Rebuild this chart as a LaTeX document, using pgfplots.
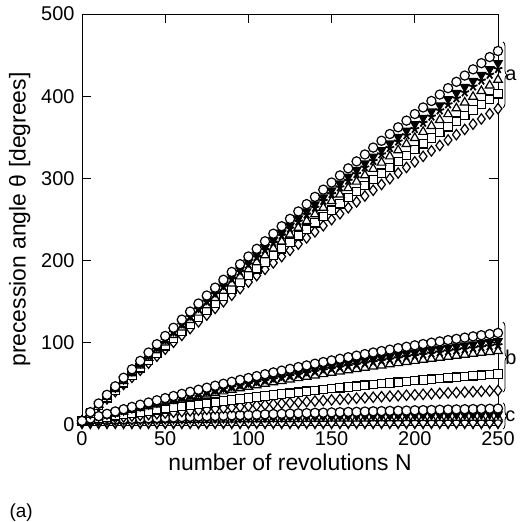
\documentclass[border=0pt]{standalone}
\usepackage{fontspec}
\setmainfont{Liberation Sans}
\usepackage{pgfplots}
\usepackage{pgfplotstable}
\pgfplotsset{compat=1.18}
\usetikzlibrary{decorations.pathreplacing}
\pgfplotstableread{
N ac ad as at aq ar
0 5 5 5 5 5 5
5 15.6 15.3 15.1 14.8 14.4 14.0
10 26.2 25.5 25.2 24.5 23.7 22.9
15 36.7 35.7 35.1 34.2 33.0 31.8
20 47.1 45.7 45.1 43.8 42.2 40.6
25 57.5 55.8 54.9 53.4 51.4 49.3
30 67.8 65.7 64.7 62.9 60.5 58.0
35 78.0 75.6 74.5 72.3 69.6 66.6
40 88.2 85.5 84.1 81.7 78.5 75.2
45 98.3 95.2 93.7 91.0 87.5 83.7
50 108.3 104.9 103.3 100.3 96.3 92.2
55 118.3 114.6 112.7 109.5 105.2 100.6
60 128.2 124.1 122.2 118.6 113.9 109.0
65 138.0 133.6 131.5 127.7 122.6 117.3
70 147.8 143.1 140.8 136.7 131.2 125.5
75 157.5 152.5 150.0 145.6 139.8 133.7
80 167.1 161.8 159.2 154.5 148.3 141.8
85 176.7 171.0 168.3 163.3 156.8 149.9
90 186.2 180.2 177.3 172.1 165.2 157.9
95 195.6 189.3 186.3 180.8 173.5 165.9
100 205.0 198.4 195.2 189.4 181.8 173.8
105 214.3 207.4 204.0 198.0 190.0 181.7
110 223.5 216.3 212.8 206.5 198.2 189.4
115 232.7 225.2 221.5 214.9 206.3 197.2
120 241.8 234.0 230.2 223.3 214.3 204.9
125 250.8 242.7 238.8 231.7 222.3 212.5
130 259.8 251.4 247.3 239.9 230.2 220.1
135 268.7 260.0 255.8 248.1 238.1 227.6
140 277.5 268.5 264.2 256.3 245.9 235.0
145 286.3 277.0 272.5 264.4 253.7 242.4
150 295.0 285.4 280.8 272.4 261.4 249.8
155 303.6 293.8 289.0 280.3 269.0 257.0
160 312.2 302.1 297.1 288.2 276.6 264.3
165 320.7 310.3 305.2 296.1 284.1 271.4
170 329.1 318.4 313.2 303.8 291.5 278.6
175 337.5 326.5 321.2 311.6 298.9 285.6
180 345.8 334.5 329.1 319.2 306.3 292.6
185 354.0 342.5 336.9 326.8 313.5 299.6
190 362.2 350.4 344.7 334.3 320.8 306.5
195 370.3 358.2 352.4 341.8 327.9 313.3
200 378.3 366.0 360.0 349.2 335.0 320.1
205 386.3 373.7 367.6 356.6 342.1 326.8
210 394.2 381.4 375.1 363.8 349.1 333.5
215 402.0 388.9 382.6 371.1 356.0 340.1
220 409.8 396.4 390.0 378.2 362.8 346.7
225 417.5 403.9 397.3 385.3 369.7 353.2
230 425.1 411.3 404.5 392.4 376.4 359.6
235 432.7 418.6 411.7 399.3 383.1 366.0
240 440.2 425.8 418.9 406.3 389.7 372.3
245 447.6 433.0 426.0 413.1 396.3 378.6
250 455.0 440.2 433.0 419.9 402.8 384.8
}\tabA
\pgfplotstableread{
N bc bd bs bt bq br
0 5.0 5.0 5.0 5.0 5.0 5.0
5 7.9 7.6 7.5 7.3 6.6 6.0
10 10.8 10.2 10.0 9.6 8.1 7.0
15 13.6 12.8 12.4 11.9 9.6 8.0
20 16.5 15.4 14.9 14.1 11.1 9.0
25 19.2 17.9 17.2 16.3 12.6 9.9
30 22.0 20.4 19.6 18.5 14.1 10.9
35 24.7 22.9 22.0 20.7 15.5 11.8
40 27.4 25.3 24.3 22.8 16.9 12.7
45 30.1 27.7 26.6 24.9 18.4 13.7
50 32.7 30.1 28.8 27.0 19.8 14.6
55 35.3 32.5 31.0 29.1 21.1 15.5
60 37.9 34.8 33.3 31.1 22.5 16.4
65 40.4 37.1 35.4 33.1 23.9 17.2
70 42.9 39.3 37.6 35.1 25.2 18.1
75 45.4 41.6 39.7 37.1 26.5 19.0
80 47.8 43.8 41.8 39.0 27.8 19.8
85 50.2 46.0 43.9 40.9 29.1 20.6
90 52.6 48.1 45.9 42.8 30.3 21.5
95 54.9 50.3 47.9 44.7 31.6 22.3
100 57.2 52.4 49.9 46.5 32.8 23.1
105 59.5 54.4 51.9 48.3 34.0 23.9
110 61.8 56.5 53.8 50.1 35.2 24.6
115 64.0 58.5 55.7 51.9 36.4 25.4
120 66.2 60.5 57.6 53.6 37.6 26.2
125 68.3 62.4 59.5 55.3 38.7 26.9
130 70.5 64.3 61.3 57.0 39.9 27.6
135 72.5 66.2 63.1 58.7 41.0 28.4
140 74.6 68.1 64.9 60.3 42.1 29.1
145 76.6 69.9 66.6 61.9 43.2 29.8
150 78.6 71.8 68.3 63.5 44.2 30.5
155 80.6 73.5 70.0 65.1 45.3 31.1
160 82.5 75.3 71.7 66.6 46.3 31.8
165 84.4 77.0 73.3 68.1 47.3 32.5
170 86.3 78.7 74.9 69.6 48.3 33.1
175 88.2 80.4 76.5 71.1 49.3 33.8
180 90.0 82.0 78.1 72.5 50.3 34.4
185 91.7 83.6 79.6 73.9 51.2 35.0
190 93.5 85.2 81.1 75.3 52.1 35.6
195 95.2 86.8 82.6 76.7 53.1 36.2
200 96.9 88.3 84.0 78.0 54.0 36.8
205 98.5 89.8 85.4 79.3 54.8 37.3
210 100.2 91.3 86.8 80.6 55.7 37.9
215 101.7 92.7 88.2 81.9 56.5 38.5
220 103.3 94.1 89.5 83.1 57.4 39.0
225 104.8 95.5 90.8 84.3 58.2 39.5
230 106.3 96.9 92.1 85.5 59.0 40.0
235 107.8 98.2 93.4 86.7 59.8 40.5
240 109.2 99.5 94.6 87.8 60.5 41.0
245 110.6 100.8 95.8 88.9 61.3 41.5
250 112.0 102.0 97.0 90.0 62.0 42.0
}\tabB
\pgfplotstableread{
N cc cd ct cr cv
0 5.0 5.0 5.0 3.0 1.5
5 5.4 5.2 5.1 3.0 1.5
10 5.8 5.4 5.2 3.0 1.5
15 6.2 5.6 5.3 3.0 1.5
20 6.6 5.9 5.4 3.0 1.5
25 7.0 6.1 5.5 3.0 1.5
30 7.4 6.3 5.6 3.0 1.5
35 7.8 6.5 5.7 3.0 1.5
40 8.1 6.7 5.8 3.0 1.5
45 8.5 6.9 5.9 3.0 1.5
50 8.9 7.1 6.0 3.0 1.5
55 9.2 7.3 6.1 3.0 1.5
60 9.6 7.5 6.2 3.0 1.5
65 10.0 7.6 6.3 3.0 1.5
70 10.3 7.8 6.4 3.0 1.5
75 10.7 8.0 6.5 3.0 1.5
80 11.0 8.2 6.6 3.0 1.5
85 11.3 8.4 6.7 3.0 1.5
90 11.7 8.6 6.8 3.0 1.5
95 12.0 8.7 6.9 3.0 1.5
100 12.3 8.9 7.0 3.0 1.5
105 12.6 9.1 7.0 3.0 1.5
110 13.0 9.2 7.1 3.0 1.5
115 13.3 9.4 7.2 3.0 1.5
120 13.6 9.6 7.3 3.0 1.5
125 13.9 9.7 7.4 3.0 1.5
130 14.2 9.9 7.4 3.0 1.5
135 14.5 10.1 7.5 3.0 1.5
140 14.8 10.2 7.6 3.0 1.5
145 15.0 10.4 7.7 3.0 1.5
150 15.3 10.5 7.8 3.0 1.5
155 15.6 10.7 7.8 3.0 1.5
160 15.9 10.8 7.9 3.0 1.5
165 16.1 10.9 8.0 3.0 1.5
170 16.4 11.1 8.0 3.0 1.5
175 16.7 11.2 8.1 3.0 1.5
180 16.9 11.4 8.2 3.0 1.5
185 17.2 11.5 8.2 3.0 1.5
190 17.4 11.6 8.3 3.0 1.5
195 17.6 11.7 8.4 3.0 1.5
200 17.9 11.9 8.4 3.0 1.5
205 18.1 12.0 8.5 3.0 1.5
210 18.3 12.1 8.6 3.0 1.5
215 18.6 12.2 8.6 3.0 1.5
220 18.8 12.4 8.7 3.0 1.5
225 19.0 12.5 8.7 3.0 1.5
230 19.2 12.6 8.8 3.0 1.5
235 19.4 12.7 8.8 3.0 1.5
240 19.6 12.8 8.9 3.0 1.5
245 19.8 12.9 8.9 3.0 1.5
250 20.0 13.0 9.0 3.0 1.5
}\tabC
\pgfplotsset{
  oc/.style={only marks, mark=*, mark size=4.6bp, mark options={fill=white, draw=black, line width=1.2bp}},
  fdt/.style={only marks, mark=triangle*, mark size=4.8bp, mark options={rotate=180, fill=black, draw=black, line width=1.2bp}},
  fst/.style={only marks, mark=star, mark size=4.6bp, mark options={draw=black, line width=1.8bp}},
  otr/.style={only marks, mark=triangle*, mark size=5bp, mark options={fill=white, draw=black, line width=1.2bp}},
  osq/.style={only marks, mark=square*, mark size=4.2bp, mark options={fill=white, draw=black, line width=1.2bp}},
  odi/.style={only marks, mark=diamond*, mark size=5.2bp, mark options={fill=white, draw=black, line width=1.2bp}},
  odt/.style={only marks, mark=triangle*, mark size=4.8bp, mark options={rotate=180, fill=white, draw=black, line width=1.2bp}},
}
\begin{document}
\begin{tikzpicture}
\begin{axis}[
  scale only axis, width=416bp, height=411bp,
  xmin=0, xmax=250, ymin=0, ymax=500,
  xtick={0,50,...,250}, ytick={0,100,...,500},
  axis line style={line width=0.9bp},
  every tick/.style={black, line width=0.9bp},
  major tick length=9bp,
  tick label style={font=\fontsize{20}{22}\selectfont},
  /pgf/number format/assume math mode=true,
  xticklabel style={yshift=-3bp},
  yticklabel style={xshift=-4bp},
  label style={font=\fontsize{23}{26}\selectfont},
  xlabel={number of revolutions N},
  ylabel={precession angle θ [degrees]},
  xlabel style={yshift=-1bp},
  ylabel style={yshift=4bp},
  clip=false,
]
\addplot[odt] table[x=N,y=cv]{\tabC};
\addplot[odi] table[x=N,y=cr]{\tabC};
\addplot[otr] table[x=N,y=ct]{\tabC};
\addplot[fdt] table[x=N,y=cd]{\tabC};
\addplot[oc] table[x=N,y=cc]{\tabC};
\addplot[odi] table[x=N,y=br]{\tabB};
\addplot[osq] table[x=N,y=bq]{\tabB};
\addplot[otr] table[x=N,y=bt]{\tabB};
\addplot[fst] table[x=N,y=bs]{\tabB};
\addplot[fdt] table[x=N,y=bd]{\tabB};
\addplot[oc] table[x=N,y=bc]{\tabB};
\addplot[odi] table[x=N,y=ar]{\tabA};
\addplot[osq] table[x=N,y=aq]{\tabA};
\addplot[otr] table[x=N,y=at]{\tabA};
\addplot[fst] table[x=N,y=as]{\tabA};
\addplot[fdt] table[x=N,y=ad]{\tabA};
\addplot[oc] table[x=N,y=ac]{\tabA};
\draw[decorate, decoration={brace, amplitude=4bp}, line width=0.8bp] (axis cs:253,466) -- (axis cs:253,386) node[midway, right=2bp, inner sep=0pt, font=\fontsize{20}{22}\selectfont]{a};
\draw[decorate, decoration={brace, amplitude=4bp}, line width=0.8bp] (axis cs:253,125) -- (axis cs:253,40) node[midway, right=2bp, inner sep=0pt, font=\fontsize{20}{22}\selectfont]{b};
\draw[decorate, decoration={brace, amplitude=4bp}, line width=0.8bp] (axis cs:253,27) -- (axis cs:253,-5) node[midway, right=2bp, inner sep=0pt, font=\fontsize{20}{22}\selectfont]{c};
\end{axis}
\node[anchor=west, font=\fontsize{19}{21}\selectfont] at (-76bp,-88bp) {(a)};
\pgfresetboundingbox
\path[use as bounding box] (-82bp,-97bp) rectangle (440bp,425bp);
\end{tikzpicture}
\end{document}
